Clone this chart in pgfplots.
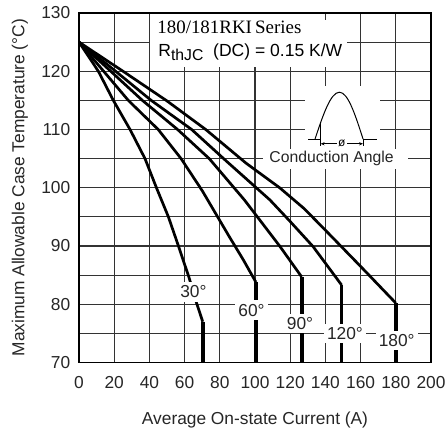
\documentclass[border=0pt]{standalone}
\usepackage{fontspec}
\setmainfont{Liberation Sans}
\newfontfamily\serieshead{Liberation Serif}
\usepackage{pgfplots}
\pgfplotsset{compat=1.18}
\usetikzlibrary{arrows.meta}

\begin{document}
\fontsize{8.7}{10}\selectfont
\begin{tikzpicture}[
    curve/.style={black, line width=1.35bp, line join=round, mark=none},
    drop/.style={black, line width=1.9bp, mark=none},
    anglelbl/.style={fill=white, inner xsep=1.6bp, inner ysep=1.8bp, font=\fontsize{8.7}{10}\selectfont, text=black!85},
]
\begin{axis}[
    scale only axis,
    width=176bp, height=174.75bp,
    xmin=0, xmax=200, ymin=70, ymax=130,
    xtick={0,20,...,200},
    ytick={70,80,...,130},
    minor ytick={75,85,...,125},
    grid=both,
    grid style={line width=0.55bp, black!80},
    minor grid style={line width=0.55bp, black!80},
    major grid style={line width=0.55bp, black!80},
    major tick length=0pt, minor tick length=0pt,
    axis line style={line width=0.7bp, black},
    /pgf/number format/assume math mode=true,
    tick label style={font=\fontsize{8.7}{10}\selectfont, text=black!85},
    xticklabel style={yshift=-4bp},
    yticklabel style={xshift=-1.3bp},
    xlabel={Average On-state Current (A)},
    ylabel={Maximum Allowable Case Temperature (°C)},
    xlabel style={at={(axis description cs:0.5,-0.1645)}, anchor=center, font=\fontsize{8.7}{10}\selectfont, text=black!85},
    ylabel style={at={(axis description cs:-0.1676,0.5)}, anchor=center, font=\fontsize{8.7}{10}\selectfont, text=black!85},
]
\coordinate (sw) at (rel axis cs:0,0);
\coordinate (ne) at (rel axis cs:1,1);

% 30 deg
\addplot[curve] coordinates {
    (0,125) (11,120) (19.5,115) (29,110) (37.5,105) (44,100) (50.8,95)
    (56.5,90) (62.5,84.6) (66.9,80.1) (70.3,77)
};
\addplot[drop] coordinates {(70.3,77) (70.3,70)};

% 60 deg
\addplot[curve] coordinates {
    (0,125) (14,120) (28,115) (45,110) (58,105) (70,99.5) (85,91.8)
    (93.4,87.6) (100.5,83.8)
};
\addplot[drop] coordinates {(100.5,83.8) (100.5,70)};

% 90 deg
\addplot[curve] coordinates {
    (0,125) (18,120) (36,115) (56,110) (74,105) (94,97.9) (114,90) (126.5,84.7)
};
\addplot[drop] coordinates {(126.5,84.7) (126.5,70)};

% 120 deg
\addplot[curve] coordinates {
    (0,125) (20,120.2) (41,115) (64,110) (84,104.5) (108.5,97.9) (120,94.2)
    (133,89.9) (149.2,83.3)
};
\addplot[drop] coordinates {(149.2,83.3) (149.2,70)};

% 180 deg
\addplot[curve] coordinates {
    (0,125) (25,120) (50,114.9) (72,110) (95,104.2) (114,100) (128,96.4)
    (141,92.4) (160,86.5) (180,80.2)
};
\addplot[drop] coordinates {(180,80.2) (180,70)};

% title block
\fill[white] (axis cs:40.45,129.85) rectangle (axis cs:126,124);
\fill[white] (axis cs:40.45,128.8) rectangle (axis cs:152,120.7);
\node[anchor=west, inner sep=0pt, font=\serieshead\fontsize{9.5}{10}\selectfont]
    at (axis cs:44.3,127.5) {180/181RKI\,Series};
\node[anchor=west, inner sep=0pt, font=\fontsize{8.8}{10}\selectfont]
    at (axis cs:44.9,123.2) {R\raisebox{-0.45ex}{\fontsize{7.9}{8}\selectfont thJC}\ \ (DC) = 0.15 K/W};

% conduction angle inset
\fill[white] (axis cs:128.4,117.4) rectangle (axis cs:171,106.6);
\fill[white] (axis cs:104.5,106.7) rectangle (axis cs:187,103.3);
\draw[black, line width=0.5bp] (axis cs:134.1,108.35) sin (axis cs:148,116.4) cos (axis cs:161.4,108.35);
\draw[black, line width=0.5bp] (axis cs:130.3,108.35) -- (axis cs:137.3,108.35);
\draw[black, line width=0.5bp] (axis cs:161.4,108.35) -- (axis cs:169.1,108.35);
\draw[black, line width=0.5bp] (axis cs:137.3,111.3) -- (axis cs:137.3,107.2);
\draw[black, line width=0.5bp] (axis cs:161.4,108.35) -- (axis cs:161.4,107.2);
\draw[black, line width=0.45bp, {Stealth[length=2bp,width=1.6bp]}-{Stealth[length=2bp,width=1.6bp]}]
    (axis cs:137.3,107.55) -- (axis cs:161.4,107.55);
\node[fill=white, inner sep=0.6bp, font=\fontsize{6}{6}\selectfont] at (axis cs:149.3,107.55) {ø};
\node[inner sep=0pt, font=\fontsize{7.9}{9}\selectfont, text=black!85] at (axis cs:143.5,105.1) {Conduction Angle};

% angle labels
\node[anglelbl] at (axis cs:65,82.1) {30°};
\node[anglelbl] at (axis cs:98,79) {60°};
\node[anglelbl] at (axis cs:125.6,76.7) {90°};
\node[anglelbl] at (axis cs:151.1,75) {120°};
\node[anglelbl] at (axis cs:180.5,73.8) {180°};
\end{axis}
\path (sw) ++(-39.5bp,-36.25bp) coordinate (bba);
\path (ne) ++(8.5bp,6.5bp) coordinate (bbb);
\pgfresetboundingbox
\path (bba) rectangle (bbb);
\end{tikzpicture}
\end{document}
